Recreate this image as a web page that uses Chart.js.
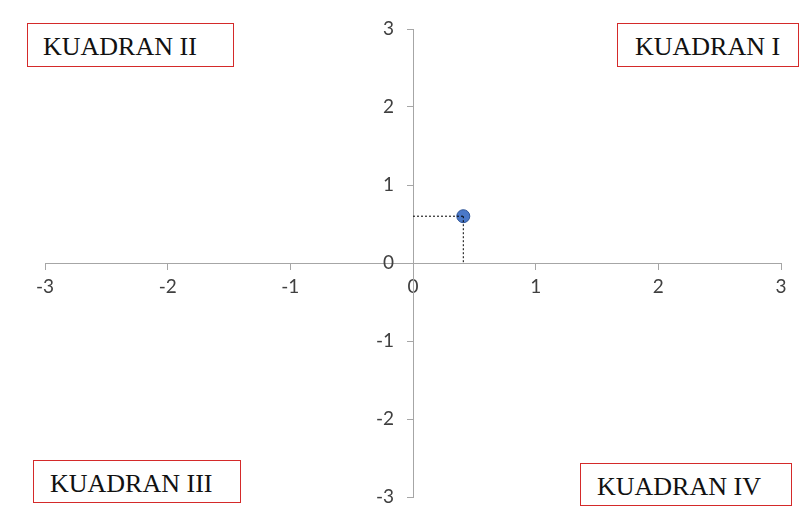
<!DOCTYPE html>
<html lang="en">
<head>
    <meta charset="utf-8">
    <title>Kuadran</title>
    <script src="https://cdn.jsdelivr.net/npm/chart.js"></script>
    <style>
        html, body { margin: 0; padding: 0; background: #fff; }
        .wrap { position: relative; width: 799px; height: 515px; }
        .box {
            position: absolute;
            box-sizing: border-box;
            border: 1.5px solid #d42a2a;
            background: #fff;
            font-family: "Liberation Serif", "Times New Roman", serif;
            font-size: 26px;
            color: #111;
            line-height: 1;
            white-space: nowrap;
        }
    </style>
</head>
<body>
    <div class="wrap">
        <canvas id="myChart" width="799" height="515"></canvas>
        <div class="box" style="left:27px;top:23px;width:207px;height:44px;padding:10px 0 0 15px;">KUADRAN II</div>
        <div class="box" style="left:617px;top:23px;width:182px;height:44px;padding:10px 0 0 17px;">KUADRAN I</div>
        <div class="box" style="left:33px;top:460px;width:208px;height:43px;padding:10px 0 0 16px;">KUADRAN III</div>
        <div class="box" style="left:580px;top:463px;width:212px;height:43px;padding:10px 0 0 16px;">KUADRAN IV</div>
    </div>

    <script>
        // titik yang diplot
        const pointX = [0.41];
        const pointY = [0.6];
        const xTicks = [-3, -2, -1, 0, 1, 2, 3];
        const yTicks = [-3, -2, -1, 0, 1, 2, 3];

        const axisColor = '#a6a6a6';
        const labelColor = '#404040';

        const guideH = [{x: 0, y: pointY[0]}, {x: pointX[0], y: pointY[0]}];
        const guideV = [{x: pointX[0], y: pointY[0]}, {x: pointX[0], y: 0}];

        const data = {
            datasets: [{
                label: 'guide-h',
                data: guideH,
                showLine: true,
                borderColor: '#000',
                borderWidth: 1,
                borderDash: [2, 2],
                pointRadius: 0
            }, {
                label: 'guide-v',
                data: guideV,
                showLine: true,
                borderColor: '#000',
                borderWidth: 1,
                borderDash: [2, 2],
                pointRadius: 0
            }, {
                label: 'titik',
                data: pointX.map((x, i) => ({x: x, y: pointY[i]})),
                backgroundColor: '#4a78c8',
                borderColor: '#2f5597',
                borderWidth: 1,
                pointRadius: 6.5
            }]
        };

        const tickFont = {family: 'Lato, "Liberation Sans", sans-serif', size: 19};

        const config = {
            type: 'scatter',
            data: data,
            options: {
                responsive: false,
                animation: false,
                layout: {padding: {left: 45, right: 18, top: 29, bottom: 18}},
                plugins: {legend: {display: false}, tooltip: {enabled: false}},
                scales: {
                    x: {
                        type: 'linear',
                        min: -3, max: 3,
                        position: {y: 0},
                        afterBuildTicks: (s) => { s.ticks = xTicks.map(v => ({value: v})); },
                        grid: {drawOnChartArea: false, drawTicks: true, tickLength: 6, color: axisColor},
                        border: {color: axisColor, width: 1},
                        ticks: {color: labelColor, font: tickFont, padding: 6, maxRotation: 0}
                    },
                    y: {
                        type: 'linear',
                        min: -3, max: 3,
                        position: {x: 0},
                        afterBuildTicks: (s) => { s.ticks = yTicks.map(v => ({value: v})); },
                        grid: {drawOnChartArea: false, drawTicks: true, tickLength: 6, color: axisColor},
                        border: {color: axisColor, width: 1},
                        // the centred axis puts labels right on the line, so pad them with spaces
                        ticks: {color: labelColor, font: tickFont, padding: 6,
                                callback: (v) => v + '\u2002\u2002'}
                    }
                }
            }
        };

        const myChart = new Chart(document.getElementById('myChart'), config);
    </script>
</body>
</html>
